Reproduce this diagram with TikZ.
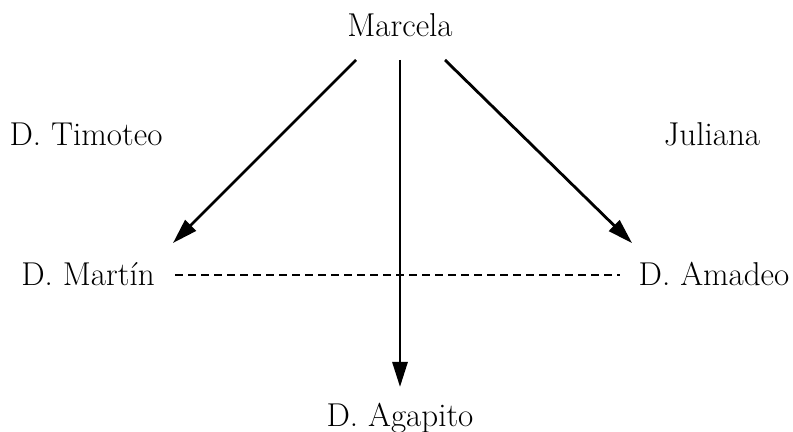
\documentclass[tikz,border=0pt]{standalone}
\usepackage{fontspec}
\usetikzlibrary{arrows.meta}

\begin{document}
\begin{tikzpicture}[line width=2pt,
  person/.style={anchor=base, inner sep=0pt, font=\fontsize{23.5}{28}\selectfont},
  link/.style={-{Triangle[length=0.625cm, width=0.375cm]}}]
  \useasboundingbox (0,0) rectangle (19.825,10.8);
  % names
  \node[person] (marcela) at (10.0,9.875) {Marcela};
  \node[person] (timoteo) at (2.15,7.15) {D. Timoteo};
  \node[person] (juliana) at (17.8,7.15) {Juliana};
  \node[person] (martin) at (2.2,3.65) {D. Martín};
  \node[person] (amadeo) at (17.85,3.65) {D. Amadeo};
  \node[person] (agapito) at (10.0,0.125) {D. Agapito};
  % arrow ends
  \coordinate (mL) at (8.9,9.3);
  \coordinate (mC) at (10.0,9.3);
  \coordinate (mR) at (11.125,9.3);
  \coordinate (tL) at (4.325,4.725);
  \coordinate (tC) at (10.0,1.125);
  \coordinate (tR) at (15.8,4.725);
  \coordinate (dL) at (4.375,3.925);
  \coordinate (dR) at (15.5,3.925);
  \draw[link] (mL) -- (tL);
  \draw[link] (mC) -- (tC);
  \draw[link] (mR) -- (tR);
  \draw[dash pattern=on 0.2cm off 0.125cm] (dL) -- (dR);
\end{tikzpicture}
\end{document}
